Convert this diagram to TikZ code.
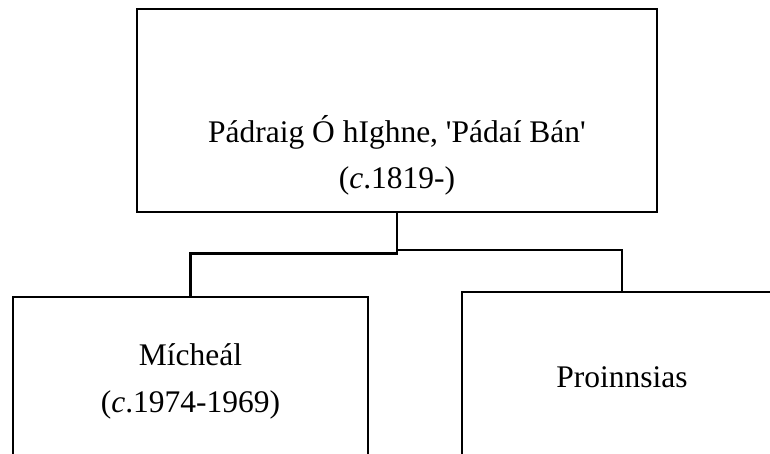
\documentclass[tikz,border=0pt]{standalone}
\usepackage{fontspec}
\setmainfont{Liberation Serif}

\begin{document}
\begin{tikzpicture}[
        x=1bp, y=-1bp,
        person/.style={draw, line width=2.2bp, inner sep=0pt},
        persontext/.style={align=center, inner sep=0pt, anchor=base,
            font=\fontsize{31.6}{47}\selectfont},
        link/.style={line width=2.2bp}
    ]
    \useasboundingbox (0,0) rectangle (770,454);
    \clip (0,0) rectangle (770,454);

    % --- Parent ---
    \node[person, minimum width=520bp, minimum height=203bp] (padraig) at (397,110.5) {};
    \node[persontext] (padraigtxt) at (397,189)
        {Pádraig Ó hIghne, \textquotesingle Pádaí Bán\textquotesingle\\(\textit{c}.1819-)};

    % --- Children ---
    \node[person, minimum width=355bp, minimum height=182bp] (micheal) at (190.5,388) {};
    \node[persontext] (michealtxt) at (190.5,412) {Mícheál\\(\textit{c}.1974-1969)};

    \node[person, minimum width=320bp, minimum height=190bp] (proinnsias) at (622,387) {};
    \node[persontext] (proinnsiastxt) at (622,387) {Proinnsias};

    % --- Links ---
    \coordinate (forkL) at (397,253.5);
    \coordinate (forkR) at (397,250);
    \draw[link] (padraig.south) -- (forkL) -| (micheal.north);
    \draw[link] (forkR) -| (proinnsias.north);

\end{tikzpicture}
\end{document}
